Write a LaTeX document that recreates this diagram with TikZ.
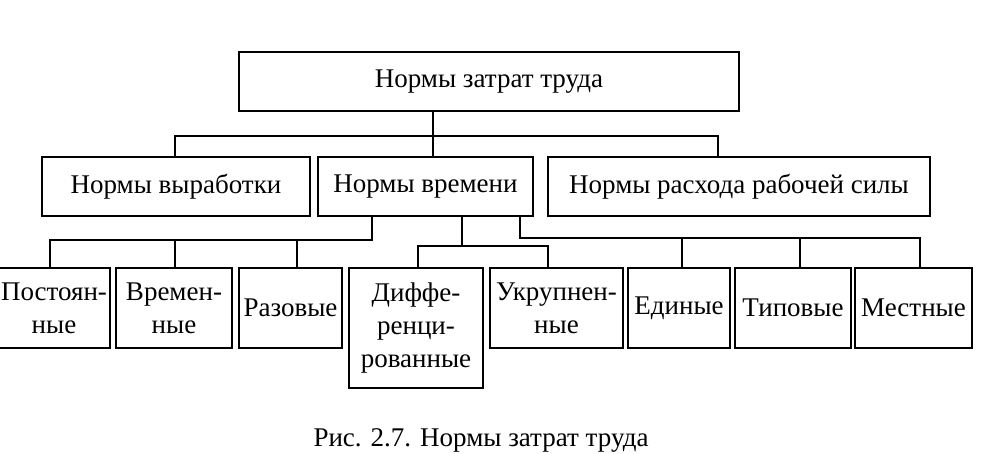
\documentclass[tikz,border=0pt]{standalone}
\usepackage{fontspec}
\setmainfont{Liberation Serif}
\begin{document}
\begin{tikzpicture}[x=1pt,y=-1pt,
  box/.style={draw, line width=2pt, inner sep=0pt, align=center,
    font=\fontsize{27}{33}\selectfont},
  conn/.style={line width=2pt}]
\useasboundingbox (0,0) rectangle (1006,454);
\clip (0,0) rectangle (1006,454);
% level 1
\node[box, minimum width=500pt, minimum height=59pt] (top) at (489,81.5) {Нормы затрат труда};
% level 2
\node[box, minimum width=268pt, minimum height=59pt] (nvyr) at (176,186.5) {Нормы выработки};
\node[box, minimum width=215pt, minimum height=59pt] (nvr) at (425.5,186.5) {Нормы времени};
\node[box, minimum width=382pt, minimum height=59pt] (nrs) at (739,186.5) {Нормы расхода рабочей силы};
% level 3
\node[box, minimum width=112pt, minimum height=80pt] (post) at (54,308) {Постоян-\\ные};
\node[box, minimum width=116pt, minimum height=80pt] (vrem) at (174,308) {Времен-\\ные};
\node[box, minimum width=103pt, minimum height=80pt] (raz) at (290.5,308) {Разовые};
\node[box, minimum width=134pt, minimum height=120pt] (diff) at (416,328) {Диффе-\\ренци-\\рованные};
\node[box, minimum width=133pt, minimum height=80pt] (ukr) at (556.5,308) {Укрупнен-\\ные};
\node[box, minimum width=102pt, minimum height=80pt] (ed) at (679,308) {Единые};
\node[box, minimum width=116pt, minimum height=80pt] (tip) at (793,308) {Типовые};
\node[box, minimum width=117pt, minimum height=80pt] (mest) at (913.5,308) {Местные};
% caption
\node[font=\fontsize{27}{32}\selectfont, anchor=base, inner sep=0pt] (cap) at (481,446) {Рис. 2.7. Нормы затрат труда};
% junctions
\coordinate (h1l) at (175,136);
\coordinate (h1m) at (433,136);
\coordinate (h1r) at (718,136);
\coordinate (gA1) at (50,240);
\coordinate (gA2) at (175,240);
\coordinate (gA3) at (297,240);
\coordinate (gA4) at (372,240);
\coordinate (gB1) at (418,246);
\coordinate (gB2) at (462,246);
\coordinate (gB3) at (548,246);
\coordinate (gC0) at (520,238);
\coordinate (gC1) at (682,238);
\coordinate (gC2) at (800,238);
\coordinate (gC3) at (920,238);
% connectors level 1 -> 2
\draw[conn] (top.south -| h1m) -- (h1m) -- (nvr.north -| h1m);
\draw[conn] (nvyr.north -| h1l) -- (h1l) -- (h1r) -- (nrs.north -| h1r);
% connectors level 2 -> 3
\draw[conn] (nvr.south -| gA4) -- (gA4) -- (gA1) -- (post.north -| gA1);
\draw[conn] (gA2) -- (vrem.north -| gA2);
\draw[conn] (gA3) -- (raz.north -| gA3);
\draw[conn] (nvr.south -| gB2) -- (gB2);
\draw[conn] (diff.north -| gB1) -- (gB1) -- (gB3) -- (ukr.north -| gB3);
\draw[conn] (nvr.south -| gC0) -- (gC0) -- (gC3) -- (mest.north -| gC3);
\draw[conn] (gC1) -- (ed.north -| gC1);
\draw[conn] (gC2) -- (tip.north -| gC2);
\end{tikzpicture}
\end{document}
